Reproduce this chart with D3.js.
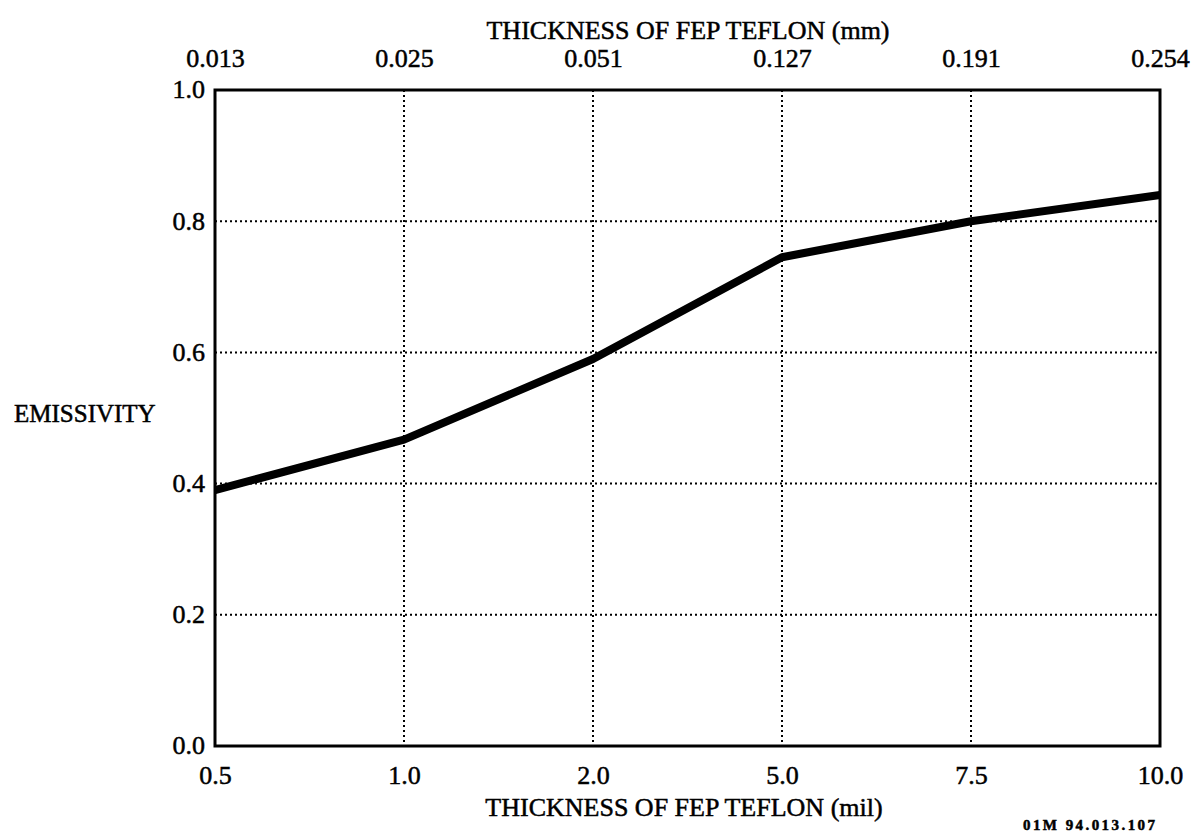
<!DOCTYPE html>
<html>
<head>
<meta charset="utf-8">
<script src="https://cdn.jsdelivr.net/npm/d3@7"></script>
<style>
  html, body { margin: 0; padding: 0; background: #fff; }
  svg { display: block; }
  text { font-family: "Liberation Serif", "Times New Roman", serif; fill: #000; stroke: #000; stroke-width: 0.5px; }
</style>
</head>
<body>
<svg id="chart" width="1194" height="832"></svg>
<script>
// Data
const milCategories = ["0.5", "1.0", "2.0", "5.0", "7.5", "10.0"];
const mmLabels = ["0.013", "0.025", "0.051", "0.127", "0.191", "0.254"];
const emissivity = [0.39, 0.467, 0.59, 0.745, 0.80, 0.84];
const yTicks = [0.0, 0.2, 0.4, 0.6, 0.8, 1.0];

const svg = d3.select("#chart");
const mLeft = 215, mRight = 1160, mTop = 90, mBottom = 746;
const serif = "'Liberation Serif', 'Times New Roman', serif";

const x = d3.scalePoint().domain(milCategories).range([mLeft, mRight]);
const y = d3.scaleLinear().domain([0, 1]).range([mBottom, mTop]);

// Grid lines
const grid = svg.append("g")
  .attr("stroke", "#000")
  .attr("stroke-width", 2)
  .attr("stroke-dasharray", "2,3")
  .attr("fill", "none");
grid.selectAll("line.v").data(milCategories.slice(1, -1)).join("line")
  .attr("class", "v")
  .attr("x1", d => x(d)).attr("x2", d => x(d))
  .attr("y1", mTop).attr("y2", mBottom);
grid.selectAll("line.h").data(yTicks.slice(1, -1)).join("line")
  .attr("class", "h")
  .attr("x1", mLeft).attr("x2", mRight)
  .attr("y1", d => y(d)).attr("y2", d => y(d));

// Frame
svg.append("rect")
  .attr("x", mLeft).attr("y", mTop)
  .attr("width", mRight - mLeft).attr("height", mBottom - mTop)
  .attr("fill", "none").attr("stroke", "#000").attr("stroke-width", 3);

// Axes (text via d3 axes)
const yAxis = d3.axisLeft(y).tickValues(yTicks).tickFormat(d3.format(".1f")).tickSize(0).tickPadding(10);
const gy = svg.append("g").attr("transform", `translate(${mLeft},0)`).call(yAxis);
gy.select(".domain").remove();
gy.selectAll("text").style("font-family", serif).style("font-size", "26px").attr("dy", "0.3em");

const xAxisBottom = d3.axisBottom(x).tickSize(0).tickPadding(20);
const gxb = svg.append("g").attr("transform", `translate(0,${mBottom})`).call(xAxisBottom);
gxb.select(".domain").remove();
gxb.selectAll("text").style("font-family", serif).style("font-size", "26px");

const xTop = d3.scalePoint().domain(mmLabels).range([mLeft, mRight]);
const xAxisTop = d3.axisTop(xTop).tickSize(0).tickPadding(23);
const gxt = svg.append("g").attr("transform", `translate(0,${mTop})`).call(xAxisTop);
gxt.select(".domain").remove();
gxt.selectAll("text").style("font-family", serif).style("font-size", "26px");

// Data line
const line = d3.line()
  .x((d, i) => x(milCategories[i]))
  .y(d => y(d));
svg.append("path")
  .datum(emissivity)
  .attr("d", line)
  .attr("fill", "none")
  .attr("stroke", "#000")
  .attr("stroke-width", 8)
  .attr("stroke-linejoin", "round");

// Titles
svg.append("text").attr("x", 688).attr("y", 39).attr("text-anchor", "middle")
  .style("font-size", "26px")
  .text("THICKNESS OF FEP TEFLON (mm)");
svg.append("text").attr("x", 684).attr("y", 816).attr("text-anchor", "middle")
  .style("font-size", "26px")
  .text("THICKNESS OF FEP TEFLON (mil)");
svg.append("text").attr("x", 14).attr("y", 422)
  .style("font-size", "25px")
  .text("EMISSIVITY");
svg.append("text").attr("x", 1023).attr("y", 830)
  .style("font-size", "15px").style("font-weight", "bold")
  .attr("textLength", 132).attr("lengthAdjust", "spacing")
  .text("01M 94.013.107");
</script>
</body>
</html>
